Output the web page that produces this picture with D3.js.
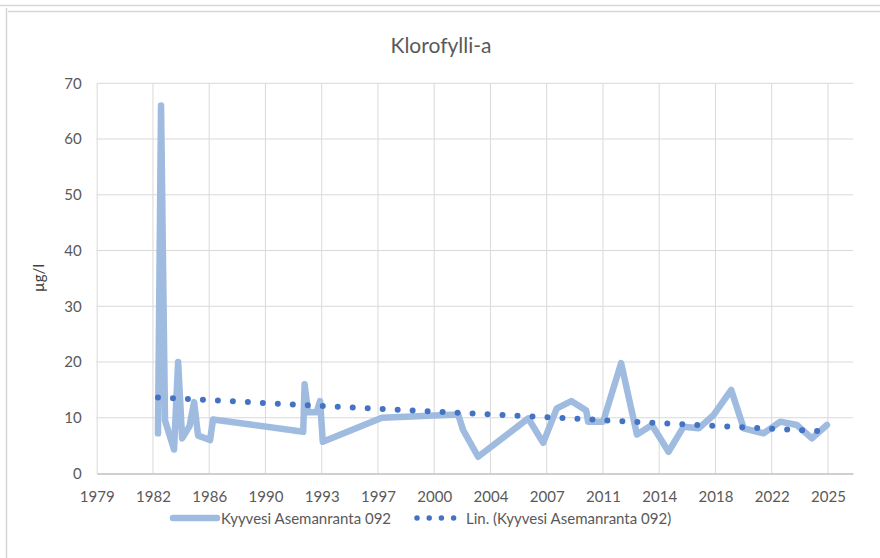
<!DOCTYPE html>
<html>
<head>
<meta charset="utf-8">
<script src="https://cdn.jsdelivr.net/npm/d3@7/dist/d3.min.js"></script>
<style>
    body { margin: 0; background: #fff; }
    svg text { font-family: Lato, "Liberation Sans", sans-serif; }
</style>
</head>
<body>
<div id="chart"></div>
<script>
// 数据：采样日期和叶绿素a数值 (µg/l)
const sampleDates = [
    "1983-04-10", "1983-06-20", "1983-09-20", "1984-04-15", "1984-07-19",
    "1984-10-19", "1985-04-09", "1985-07-23", "1985-10-23", "1986-07-27",
    "1986-10-04", "1992-06-18", "1992-07-20", "1992-10-08", "1993-04-23",
    "1993-07-13", "1993-09-13", "1997-06-10", "2002-04-09", "2002-07-31",
    "2003-07-13", "2006-09-13", "2007-08-25", "2008-07-05", "2009-06-03",
    "2010-05-16", "2010-06-28", "2011-06-10", "2012-07-30", "2013-07-31",
    "2014-07-13", "2015-07-31", "2016-07-13", "2017-06-25", "2018-06-07",
    "2019-07-19", "2020-05-01", "2021-08-04", "2022-08-25", "2023-09-13",
    "2024-08-25", "2025-08-08"
];
const chlValues = [
    7.2, 66, 9.5, 4.3, 20,
    6.3, 8.5, 12.8, 6.8, 6,
    9.7, 7.5, 16, 11, 11,
    13, 5.7, 10, 10.6, 7.8,
    3, 9.9, 5.5, 11.7, 13,
    11.3, 9.3, 9.3, 19.8, 7,
    8.7, 3.9, 8.4, 8.1, 10.5,
    15, 8.1, 7.2, 9.3, 8.7,
    6.3, 8.7
];

// 坐标轴刻度
const xTickDates = [
    "1979-05-25", "1982-12-15", "1986-07-07", "1990-01-27", "1993-08-19",
    "1997-03-11", "2000-10-01", "2004-04-23", "2007-11-14", "2011-06-06",
    "2014-12-27", "2018-07-19", "2022-02-08", "2025-08-31"
];
const xDomainDates = ["1979-05-25", "2027-04-02"];
const yTicks = [0, 10, 20, 30, 40, 50, 60, 70];

const chartTitle = "Klorofylli-a";
const yLabel = "µg/l";
const seriesName = "Kyyvesi Asemanranta 092";
const trendName = "Lin. (Kyyvesi Asemanranta 092)";

function drawChart(container) {
    const W = 880, H = 558;
    const parse = d3.timeParse("%Y-%m-%d");
    const data = sampleDates.map((d, i) => ({date: parse(d), value: chlValues[i]}));

    const svg = d3.select(container)
        .append("svg")
        .attr("width", W)
        .attr("height", H);

    // 外框
    svg.append("line").attr("x1", 0).attr("x2", W).attr("y1", 5.5).attr("y2", 5.5)
        .attr("stroke", "#d6d6d6").attr("stroke-width", 1.5);
    svg.append("line").attr("x1", 8).attr("x2", W).attr("y1", 11.5).attr("y2", 11.5)
        .attr("stroke", "#d6d6d6").attr("stroke-width", 1.5);
    svg.append("line").attr("x1", 6.5).attr("x2", 6.5).attr("y1", 8).attr("y2", H)
        .attr("stroke", "#d6d6d6").attr("stroke-width", 1.5);

    // 比例尺
    const x = d3.scaleTime()
        .domain(xDomainDates.map(parse))
        .range([96.7, 853]);
    const y = d3.scaleLinear()
        .domain([0, 70])
        .range([473.5, 83.3]);

    // 网格线
    svg.append("g")
        .selectAll("line.hgrid")
        .data(yTicks.slice(1))
        .enter().append("line")
        .attr("x1", x.range()[0]).attr("x2", x.range()[1])
        .attr("y1", d => y(d)).attr("y2", d => y(d))
        .attr("stroke", "#d9d9d9").attr("stroke-width", 1);
    svg.append("g")
        .selectAll("line.vgrid")
        .data(xTickDates.slice(1))
        .enter().append("line")
        .attr("x1", d => x(parse(d))).attr("x2", d => x(parse(d)))
        .attr("y1", y(70)).attr("y2", y(0))
        .attr("stroke", "#d9d9d9").attr("stroke-width", 1);

    // X轴
    const xAxis = svg.append("g")
        .attr("transform", `translate(0, ${y(0)})`)
        .call(d3.axisBottom(x)
            .tickValues(xTickDates.map(parse))
            .tickFormat(d3.timeFormat("%Y"))
            .tickSize(0)
            .tickPadding(18));
    xAxis.select(".domain").attr("stroke", "#bfbfbf").attr("stroke-width", 1.5);
    xAxis.selectAll("text").attr("fill", "#595959").style("font-size", "15px");

    // Y轴
    const yAxis = svg.append("g")
        .attr("transform", `translate(${x.range()[0]}, 0)`)
        .call(d3.axisLeft(y).tickValues(yTicks).tickSize(0).tickPadding(15));
    yAxis.select(".domain").attr("stroke", "#d9d9d9");
    yAxis.selectAll("text").attr("fill", "#595959").style("font-size", "15px");

    // 标题
    svg.append("text")
        .attr("x", 441)
        .attr("y", 53)
        .attr("text-anchor", "middle")
        .attr("fill", "#595959")
        .style("font-size", "21px")
        .text(chartTitle);

    // Y轴标题
    svg.append("text")
        .attr("transform", "rotate(-90)")
        .attr("x", -278)
        .attr("y", 44)
        .attr("text-anchor", "middle")
        .attr("fill", "#404040")
        .style("font-size", "15px")
        .text(yLabel);

    // 折线
    const line = d3.line()
        .x(d => x(d.date))
        .y(d => y(d.value));
    svg.append("path")
        .datum(data)
        .attr("fill", "none")
        .attr("stroke", "#9fbbe0")
        .attr("stroke-width", 6.5)
        .attr("stroke-linejoin", "round")
        .attr("stroke-linecap", "round")
        .attr("d", line);

    // 线性趋势线 (最小二乘)
    const xs = data.map(d => +d.date), ys = data.map(d => d.value);
    const mx = d3.mean(xs), my = d3.mean(ys);
    const slope = d3.sum(xs, (v, i) => (v - mx) * (ys[i] - my)) / d3.sum(xs, v => (v - mx) * (v - mx));
    const trend = d3.extent(data, d => d.date).map(d => ({date: d, value: my + slope * (+d - mx)}));
    svg.append("path")
        .datum(trend)
        .attr("fill", "none")
        .attr("stroke", "#4472c4")
        .attr("stroke-width", 6)
        .attr("stroke-linecap", "round")
        .attr("stroke-dasharray", "0 15")
        .attr("d", line);

    // 图例
    const legend = svg.append("g");
    legend.append("line")
        .attr("x1", 173).attr("x2", 217).attr("y1", 518).attr("y2", 518)
        .attr("stroke", "#9fbbe0").attr("stroke-width", 6.5).attr("stroke-linecap", "round");
    legend.append("text")
        .attr("x", 221).attr("y", 523.5)
        .attr("fill", "#595959").style("font-size", "15px")
        .text(seriesName);
    legend.append("line")
        .attr("x1", 417).attr("x2", 455).attr("y1", 518).attr("y2", 518)
        .attr("stroke", "#4472c4").attr("stroke-width", 5.5).attr("stroke-linecap", "round")
        .attr("stroke-dasharray", "0 12.2");
    legend.append("text")
        .attr("x", 466).attr("y", 523.5)
        .attr("fill", "#595959").style("font-size", "15px")
        .text(trendName);
}

drawChart("#chart");
</script>
</body>
</html>
